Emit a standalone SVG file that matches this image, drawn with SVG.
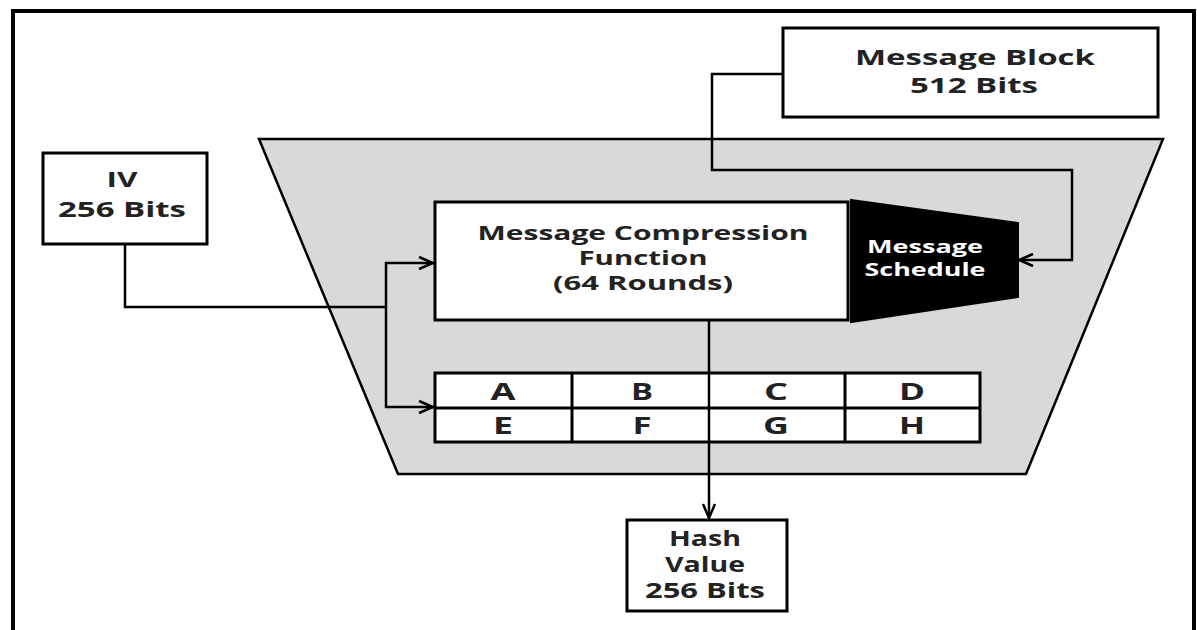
<svg xmlns="http://www.w3.org/2000/svg" width="1197" height="630" viewBox="0 0 1197 630">
<style>
.box{fill:#fff;stroke:#000;stroke-width:3}
.t{font-family:"Open Sans","DejaVu Sans",sans-serif;font-weight:700;fill:#222;text-anchor:middle}
.f21{font-size:21px}
.f20{font-size:20px}
.f24{font-size:24px}
.f18{font-size:18px;fill:#fff}
.c{fill:none;stroke:#000;stroke-width:2.5}
</style>
<defs>
<marker id="arr" markerUnits="userSpaceOnUse" markerWidth="18" markerHeight="16" refX="15" refY="8" orient="auto">
<path d="M1,2 L15,8 L1,14" fill="none" stroke="#000" stroke-width="2.5"/>
</marker>
</defs>
<rect width="1197" height="630" fill="#fff"/>
<path d="M13,630 V11 H1194 V630" fill="none" stroke="#000" stroke-width="4"/>
<g id="outer">
<polygon points="259,139 1163,139 1026,474 398,474" fill="#d9d9d9" stroke="#000" stroke-width="2.5"/>
</g>
<g id="iv">
<rect class="box" x="43" y="153" width="164" height="91"/>
<text class="t f21" x="122" y="187" textLength="31" lengthAdjust="spacingAndGlyphs">IV</text>
<text class="t f21" x="122" y="217" textLength="128" lengthAdjust="spacingAndGlyphs">256 Bits</text>
</g>
<g id="msgblock">
<rect class="box" x="783" y="28" width="375" height="89"/>
<text class="t f21" x="975" y="65" textLength="240" lengthAdjust="spacingAndGlyphs">Message Block</text>
<text class="t f21" x="974" y="93" textLength="128" lengthAdjust="spacingAndGlyphs">512 Bits</text>
</g>
<g id="mcf">
<rect class="box" x="435" y="202" width="413" height="118"/>
<text class="t f20" x="643" y="240" textLength="331" lengthAdjust="spacingAndGlyphs">Message Compression</text>
<text class="t f20" x="643" y="265" textLength="129" lengthAdjust="spacingAndGlyphs">Function</text>
<text class="t f20" x="643" y="290" textLength="180" lengthAdjust="spacingAndGlyphs">(64 Rounds)</text>
</g>
<g id="schedule">
<polygon points="851,200 1018,223 1018,297 851,322" fill="#000" stroke="#000" stroke-width="2"/>
<text class="t f18" x="925" y="253" textLength="116" lengthAdjust="spacingAndGlyphs">Message</text>
<text class="t f18" x="925" y="276" textLength="121" lengthAdjust="spacingAndGlyphs">Schedule</text>
</g>
<g id="registers">
<rect class="box" x="435" y="373" width="545" height="69"/>
<path d="M435,408 H980 M572,373 V442 M845,373 V442" stroke="#000" stroke-width="3" fill="none"/>
<text class="t f24" x="503" y="400" textLength="25" lengthAdjust="spacingAndGlyphs">A</text>
<text class="t f24" x="642" y="400" textLength="22" lengthAdjust="spacingAndGlyphs">B</text>
<text class="t f24" x="776" y="400" textLength="24" lengthAdjust="spacingAndGlyphs">C</text>
<text class="t f24" x="912" y="400" textLength="26" lengthAdjust="spacingAndGlyphs">D</text>
<text class="t f24" x="503" y="434" textLength="20" lengthAdjust="spacingAndGlyphs">E</text>
<text class="t f24" x="642" y="434" textLength="19" lengthAdjust="spacingAndGlyphs">F</text>
<text class="t f24" x="776" y="434" textLength="26" lengthAdjust="spacingAndGlyphs">G</text>
<text class="t f24" x="912" y="434" textLength="26" lengthAdjust="spacingAndGlyphs">H</text>
</g>
<g id="hash">
<rect class="box" x="627" y="520" width="160" height="91"/>
<text class="t f21" x="705" y="546" textLength="72" lengthAdjust="spacingAndGlyphs">Hash</text>
<text class="t f21" x="705" y="572" textLength="80" lengthAdjust="spacingAndGlyphs">Value</text>
<text class="t f21" x="705" y="598" textLength="120" lengthAdjust="spacingAndGlyphs">256 Bits</text>
</g>
<g id="connectors">
<path class="c" d="M125,244 V307 H386"/>
<path class="c" d="M386,307 V263 H433" marker-end="url(#arr)"/>
<path class="c" d="M386,307 V407 H433" marker-end="url(#arr)"/>
<path class="c" d="M783,74 H712 V170 H1072 V260 H1019" marker-end="url(#arr)"/>
<path class="c" d="M709,320 V518" marker-end="url(#arr)"/>
</g>
</svg>
